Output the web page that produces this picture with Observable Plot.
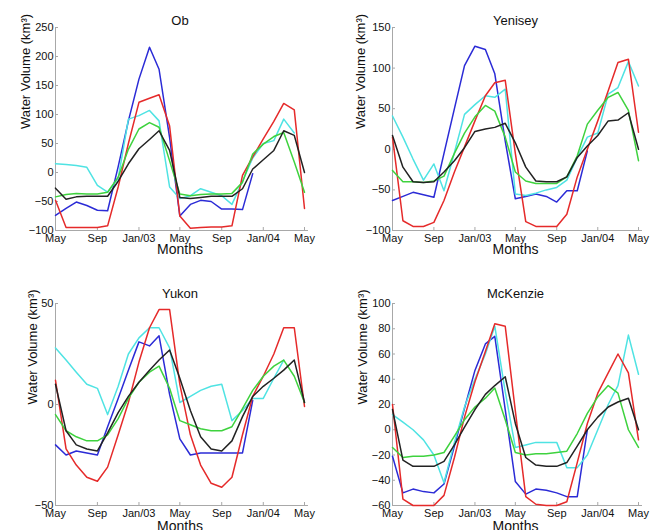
<!DOCTYPE html>
<html><head><meta charset="utf-8">
<script src="https://cdn.jsdelivr.net/npm/d3@7"></script>
<script src="https://cdn.jsdelivr.net/npm/@observablehq/plot@0.6"></script>
<style>
html,body{margin:0;padding:0;background:#fff;}
#root{position:relative;width:651px;height:530px;overflow:hidden;font-family:"Liberation Sans",Arial,sans-serif;}
.panel{position:absolute;}
</style></head><body><div id="root"></div>
<script>
const months = ["2002-05","2002-06","2002-07","2002-08","2002-09","2002-10","2002-11","2002-12",
  "2003-01","2003-02","2003-03","2003-04","2003-05","2003-06","2003-07","2003-08","2003-09","2003-10","2003-11","2003-12",
  "2004-01","2004-02","2004-03","2004-04","2004-05"];
const tickMonths = ["2002-05","2002-09","2003-01","2003-05","2003-09","2004-01","2004-05"];
const tickLabels = ["May","Sep","Jan/03","May","Sep","Jan/04","May"];
const seriesNames = ["blue","cyan","red","green","black"];
const seriesColors = ["#2b2bd6","#4fe3e3","#e52a2a","#3ed23e","#222222"];

// Ob
const obBlue  = [-74,-62,-51,-57,-65,-66,10,89,161,216,178,60,-75,-55,-48,-50,-63,-63,-64,-2,null,null,null,null,null];
const obRed   = [-48,-95,-95,-95,-95,-92,-25,50,121,128,134,80,-75,-96,-95,-94,-94,-92,-5,27,58,88,119,108,-62];
const obCyan  = [15,14,12,9,-22,-34,-10,92,98,107,89,-25,-45,-40,-28,-34,-40,-55,-15,25,50,55,92,68,null];
const obGreen = [-42,-38,-36,-37,-37,-34,-8,40,75,86,78,20,-37,-40,-38,-37,-37,-36,-17,32,49,62,69,18,-34];
const obBlack = [-27,-46,-42,-41,-41,-41,-15,15,41,57,72,38,-43,-45,-43,-41,-41,-41,-28,6,22,38,72,64,0];

// Yenisey
const yeBlue  = [-63,-58,-53,-56,-59,-5,50,103,127,123,93,10,-61,-58,-55,-58,-65,-51,-51,-2,null,null,null,null,null];
const yeRed   = [15,-88,-95,-95,-90,-63,-28,3,35,66,82,85,-5,-89,-95,-95,-95,-80,-34,0,35,72,107,111,21];
const yeCyan  = [41,15,-12,-38,-18,-51,-4,43,55,66,64,74,-55,-57,-54,-50,-47,-38,-10,15,20,68,76,108,78];
const yeGreen = [-26,-40,-40,-41,-39,-33,-5,20,40,54,47,15,-28,-39,-42,-42,-42,-34,-8,31,48,64,70,48,-14];
const yeBlack = [17,-22,-40,-41,-40,-28,-14,2,22,25,27,32,8,-22,-39,-40,-40,-34,-10,4,17,35,36,45,0];

// Yukon
const yuBlue  = [-20,-25,-23,-24,-25,-11,3,17,31,29,34,5,-17,-25,-24,-24,-24,-24,-24,2,null,null,null,null,null];
const yuRed   = [12,-22,-30,-36,-38,-31,-15,1,21,38,47,47,10,-15,-30,-39,-41,-36,-15,4,14,25,38,38,-1];
const yuCyan  = [28,22,16,10,8,-5,9,25,33,38,38,28,1,4,7,9,10,-8,-3,3,3,13,22,null,null];
const yuGreen = [-5,-13,-16,-18,-18,-15,-7,3,11,16,19,8,-8,-10,-12,-13,-13,-11,-2,7,14,19,22,14,1];
const yuBlack = [10,-13,-20,-22,-23,-14,-4,4,11,17,22,27,13,-3,-16,-22,-23,-18,-6,4,9,13,17,22,1];

// McKenzie
const mkBlue  = [-21,-50,-47,-49,-50,-43,-13,17,47,68,74,16,-41,-51,-47,-48,-50,-53,-53,0,null,null,null,null,null];
const mkRed   = [20,-55,-60,-60,-60,-52,-22,10,38,62,84,82,15,-53,-59,-60,-60,-57,-26,5,29,45,60,45,-8];
const mkCyan  = [12,6,0,-8,-20,-42,-10,18,40,60,82,30,-14,-12,-10,-10,-10,-30,-30,-20,0,20,35,75,44];
const mkGreen = [-14,-22,-21,-21,-20,-18,-5,8,18,25,33,8,-18,-20,-19,-19,-18,-17,-3,13,26,35,29,0,-14];
const mkBlack = [16,-24,-29,-29,-29,-25,-12,2,16,28,35,42,5,-22,-28,-29,-29,-26,-13,0,10,18,22,25,0];

const obTicks = [-100,-50,0,50,100,150,200,250];
const yeTicks = [-100,-50,0,50,100,150];
const yuTicks = [-50,0,50];
const mkTicks = [-60,-40,-20,0,20,40,60,80,100];

const parse = d3.utcParse("%Y-%m");
const dates = months.map(parse);
const tickDates = tickMonths.map(parse);
const axisColor = "#a8a8a8";

const panels = [
  {title:"Ob", left:0, top:0, width:325, height:260, mL:55, mR:21, mT:27, mB:30, yDomain:[-100,250], yTicks:obTicks, titleDy:-12, monthsDy:23, ylabDx:-30,
   series:[obBlue,obCyan,obRed,obGreen,obBlack]},
  {title:"Yenisey", left:325, top:0, width:326, height:260, mL:67, mR:13, mT:27, mB:30, yDomain:[-100,150], yTicks:yeTicks, titleDy:-12, monthsDy:23, ylabDx:-32,
   series:[yeBlue,yeCyan,yeRed,yeGreen,yeBlack]},
  {title:"Yukon", left:0, top:260, width:325, height:270, mL:55, mR:21, mT:43, mB:25, yDomain:[-50,50], yTicks:yuTicks, titleDy:-15, monthsDy:25, ylabDx:-23,
   series:[yuBlue,yuCyan,yuRed,yuGreen,yuBlack]},
  {title:"McKenzie", left:325, top:260, width:326, height:270, mL:67, mR:13, mT:43, mB:25, yDomain:[-60,100], yTicks:mkTicks, titleDy:-15, monthsDy:25, ylabDx:-30,
   series:[mkBlue,mkCyan,mkRed,mkGreen,mkBlack]}
];

const root = document.getElementById("root");
for (const p of panels) {
  const plotW = p.width - p.mL - p.mR;
  const plotH = p.height - p.mT - p.mB;
  const lines = p.series.map((vals, si) => {
    const rows = vals.map((v, i) => ({date: dates[i], value: v, series: seriesNames[si]}));
    return Plot.line(rows, {x: "date", y: "value", stroke: seriesColors[si], strokeWidth: 1.5, defined: d => d.value != null});
  });
  const chart = Plot.plot({
    width: p.width, height: p.height,
    marginLeft: p.mL, marginRight: p.mR, marginTop: p.mT, marginBottom: p.mB,
    style: {fontFamily: "'Liberation Sans', Arial, sans-serif", fontSize: "11px", background: "transparent", color: "#111", overflow: "visible"},
    x: {type: "utc", domain: [dates[0], dates[dates.length-1]]},
    y: {domain: p.yDomain},
    marks: [
      Plot.ruleX([dates[0]], {stroke: axisColor}),
      Plot.ruleY([p.yDomain[0]], {stroke: axisColor, x1: dates[0], x2: dates[dates.length-1], insetRight: -4}),
      Plot.tickX(tickDates, {x: d => d, stroke: axisColor, insetTop: plotH - 3}),
      Plot.tickY(p.yTicks, {y: d => d, stroke: axisColor, insetRight: plotW - 3}),
      Plot.axisX({ticks: tickDates, tickFormat: d => tickLabels[tickDates.findIndex(t => +t === +d)], tickSize: 0, tickPadding: 4, fontSize: 11, label: null}),
      Plot.axisY({ticks: p.yTicks, tickSize: 0, tickPadding: 2, fontSize: 11, label: null}),
      ...lines,
      Plot.text([p.title], {frameAnchor: "top", dy: p.titleDy, fontSize: 13}),
      Plot.text(["Months"], {frameAnchor: "bottom", dy: p.monthsDy, fontSize: 14}),
      Plot.text(["Water Volume (km³)"], {frameAnchor: "left", dx: p.ylabDx, rotate: -90, fontSize: 13})
    ]
  });
  const div = document.createElement("div");
  div.className = "panel";
  div.style.left = p.left + "px";
  div.style.top = p.top + "px";
  div.style.width = p.width + "px";
  div.style.height = p.height + "px";
  div.appendChild(chart);
  root.appendChild(div);
}
</script></body></html>
